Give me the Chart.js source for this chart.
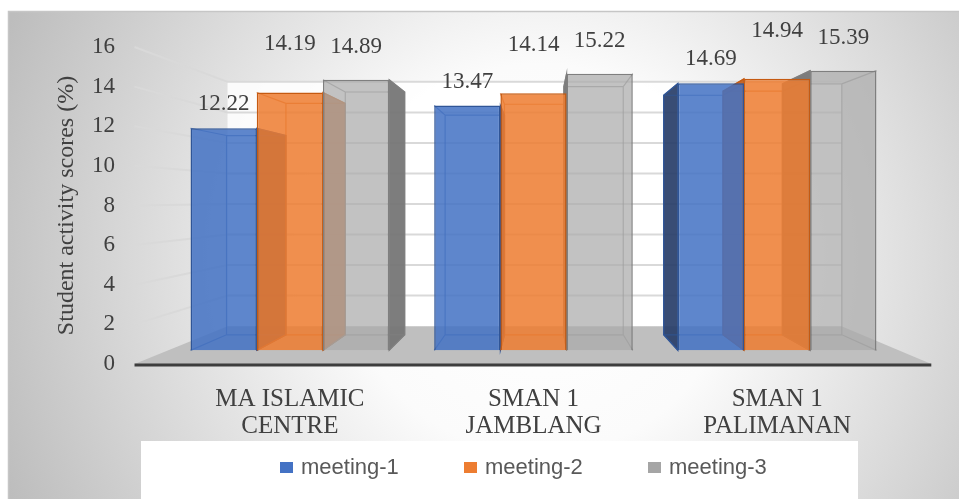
<!DOCTYPE html>
<html>
<head>
<meta charset="utf-8">
<script src="https://cdn.jsdelivr.net/npm/chart.js@4.4.0/dist/chart.umd.min.js"></script>
<style>
  html, body { margin: 0; padding: 0; background: #ffffff; }
  #c { display: block; }
</style>
</head>
<body>
<canvas id="c" width="959" height="499"></canvas>
<script>
// ---------------- data ----------------
const categories = [['MA ISLAMIC', 'CENTRE'], ['SMAN 1', 'JAMBLANG'], ['SMAN 1', 'PALIMANAN']];
const seriesNames = ['meeting-1', 'meeting-2', 'meeting-3'];
const meeting1 = [12.22, 13.47, 14.69];
const meeting2 = [14.19, 14.14, 14.94];
const meeting3 = [14.89, 15.22, 15.39];
const yTicks = [0, 2, 4, 6, 8, 10, 12, 14, 16];
const yTitle = 'Student activity scores (%)';

// ---------------- style ----------------
const SERIF = "'Liberation Serif', 'Times New Roman', serif";
const SANS = "'Liberation Sans', Arial, sans-serif";
const TEXT = '#404040';
const solid = ['#4472C4', '#ED7D31', '#A5A5A5'];
const faceFill = ['rgba(68,114,196,0.86)', 'rgba(237,125,49,0.86)', 'rgba(170,170,170,0.72)'];
const edge = ['#2F5597', '#C55A11', '#7F7F7F'];
const sideFill = ['rgba(40,62,105,0.92)', 'rgba(190,92,30,0.92)', 'rgba(118,118,118,0.95)'];
const labelLift = [24, 48, 33];

// perspective (relative to chart area)
const VXR = 0.509, VYR = 0.4795;
const S_AXIS = 1.09, S_BACK = 0.897, S_WALL = 0.84;

function vp(ca) { return { x: ca.left + ca.width * VXR, y: ca.top + ca.height * VYR }; }
function P(v, x, y, s) { return [v.x + (x - v.x) * s, v.y + (y - v.y) * s]; }
function poly(ctx, pts) {
  ctx.beginPath();
  ctx.moveTo(pts[0][0], pts[0][1]);
  for (let i = 1; i < pts.length; i++) ctx.lineTo(pts[i][0], pts[i][1]);
  ctx.closePath();
}

const scenePlugin = {
  id: 'scene',
  beforeDraw(chart) {
    const { ctx, chartArea: ca, width: W, height: H } = chart;
    const y2 = chart.scales.y2;
    const v = vp(ca);
    ctx.save();
    ctx.fillStyle = '#ffffff';
    ctx.fillRect(0, 0, W, H);
    // outer frame with radial shading
    const g = ctx.createRadialGradient(v.x, v.y + 60, 30, v.x, v.y + 60, 580);
    g.addColorStop(0, '#ffffff');
    g.addColorStop(0.3, '#fbfbfb');
    g.addColorStop(1, '#bdbdbd');
    ctx.fillStyle = g;
    ctx.fillRect(8, 11, W - 8, H - 11);
    ctx.strokeStyle = '#c6c6c6';
    ctx.lineWidth = 1.5;
    ctx.strokeRect(8.5, 11.5, W, H);
    // legend white panel
    ctx.fillStyle = '#ffffff';
    ctx.fillRect(ca.left - 27, ca.bottom + 77, ca.width - 14, H);

    const l = ca.left, r = ca.right;
    const top = y2.getPixelForValue(yTicks[yTicks.length - 1]);
    const f0 = y2.getPixelForValue(0);
    // back wall
    const bw = [P(v, l, top, S_WALL), P(v, r, top, S_WALL), P(v, r, f0, S_WALL), P(v, l, f0, S_WALL)];
    ctx.fillStyle = 'rgba(255,255,255,0.85)';
    poly(ctx, bw); ctx.fill();
    // gridlines on side wall + back wall
    ctx.strokeStyle = '#d9d9d9';
    ctx.lineWidth = 2;
    yTicks.forEach(t => {
      if (t === 0) return;
      const fy = y2.getPixelForValue(t);
      const a = P(v, l, fy, S_AXIS), b = P(v, l, fy, S_WALL), c = P(v, r, fy, S_WALL);
      ctx.beginPath();
      ctx.moveTo(a[0], a[1]); ctx.lineTo(b[0], b[1]); ctx.lineTo(c[0], c[1]);
      ctx.stroke();
    });
    // floor
    const fl = [P(v, l, f0, S_AXIS), P(v, r, f0, S_AXIS), P(v, r, f0, S_WALL), P(v, l, f0, S_WALL)];
    ctx.fillStyle = '#bfbfbf';
    poly(ctx, fl); ctx.fill();
    ctx.strokeStyle = '#3d3d3d';
    ctx.lineWidth = 3;
    ctx.beginPath();
    ctx.moveTo(fl[0][0], fl[0][1] + 1); ctx.lineTo(fl[1][0], fl[1][1] + 1);
    ctx.stroke();
    ctx.restore();
  },
  beforeDatasetsDraw(chart) {
    const { ctx, chartArea: ca } = chart;
    const v = vp(ca);
    ctx.save();
    chart.data.datasets.forEach((ds, di) => {
      const meta = chart.getDatasetMeta(di);
      meta.data.forEach(el => {
        const p = el.getProps(['x', 'y', 'base', 'width'], true);
        const x0 = p.x - p.width / 2, x1 = p.x + p.width / 2;
        const FTL = [x0, p.y], FTR = [x1, p.y], FBL = [x0, p.base], FBR = [x1, p.base];
        const BTL = P(v, x0, p.y, S_BACK), BTR = P(v, x1, p.y, S_BACK);
        const BBL = P(v, x0, p.base, S_BACK), BBR = P(v, x1, p.base, S_BACK);
        ctx.fillStyle = sideFill[di];
        ctx.strokeStyle = edge[di];
        ctx.lineWidth = 1.2;
        if (BTR[0] > x1 + 0.5) { poly(ctx, [FTR, BTR, BBR, FBR]); ctx.fill(); ctx.stroke(); }
        if (BTL[0] < x0 - 0.5) { poly(ctx, [FTL, BTL, BBL, FBL]); ctx.fill(); ctx.stroke(); }
        // hidden edges seen through the translucent faces
        ctx.globalAlpha = 0.7;
        ctx.beginPath();
        ctx.moveTo(BTL[0], BTL[1]); ctx.lineTo(BTR[0], BTR[1]); ctx.lineTo(BBR[0], BBR[1]);
        ctx.lineTo(BBL[0], BBL[1]); ctx.closePath();
        [[FTL, BTL], [FTR, BTR], [FBL, BBL], [FBR, BBR]].forEach(([a, b]) => {
          ctx.moveTo(a[0], a[1]); ctx.lineTo(b[0], b[1]);
        });
        ctx.stroke();
        ctx.globalAlpha = 1;
      });
    });
    ctx.restore();
  },
  afterDatasetsDraw(chart) {
    const { ctx } = chart;
    ctx.save();
    ctx.font = '23px ' + SERIF;
    ctx.fillStyle = TEXT;
    ctx.textAlign = 'center';
    ctx.textBaseline = 'middle';
    chart.data.datasets.forEach((ds, di) => {
      const meta = chart.getDatasetMeta(di);
      meta.data.forEach((el, i) => {
        ctx.fillText(ds.data[i].toFixed(2), el.x, el.y - ds.labelLift);
      });
    });
    ctx.restore();
  },
  afterDraw(chart) {
    // legend row
    const { ctx, chartArea: ca } = chart;
    const cy = ca.bottom + 104;
    const step = 184;
    ctx.save();
    ctx.font = '22px ' + SANS;
    ctx.textAlign = 'left';
    ctx.textBaseline = 'middle';
    chart.data.datasets.forEach((ds, i) => {
      const x = ca.left + 112 + i * step;
      ctx.fillStyle = solid[i];
      ctx.fillRect(x, cy - 6, 13, 11);
      ctx.fillStyle = '#595959';
      ctx.fillText(ds.label, x + 21, cy);
    });
    ctx.restore();
  }
};

const seriesValues = [meeting1, meeting2, meeting3];
const datasets = seriesValues.map((vals, i) => ({
  label: seriesNames[i],
  data: vals,
  yAxisID: 'y2',
  backgroundColor: faceFill[i],
  borderColor: edge[i],
  borderWidth: 1.5,
  labelLift: labelLift[i],
  categoryPercentage: 0.815,
  barPercentage: 1.0
}));

new Chart(document.getElementById('c'), {
  type: 'bar',
  data: { labels: categories, datasets },
  plugins: [scenePlugin],
  options: {
    responsive: false,
    animation: false,
    devicePixelRatio: 1,
    layout: { padding: { left: 8, right: 60, top: 47, bottom: 52 } },
    scales: {
      x: {
        grid: { display: false, drawTicks: false },
        border: { display: false },
        ticks: { font: { family: SERIF, size: 25, lineHeight: 1.08 }, color: TEXT, padding: 22, maxRotation: 0, autoSkip: false },
        afterFit(s) { s.height = 83; }
      },
      y: {
        position: 'left',
        min: yTicks[0],
        max: yTicks[yTicks.length - 1],
        ticks: { stepSize: yTicks[1] - yTicks[0], padding: 53, font: { family: SERIF, size: 23 }, color: TEXT },
        grid: { display: false, drawTicks: false },
        border: { display: false },
        title: { display: true, text: yTitle, font: { family: SERIF, size: 24 }, color: TEXT, padding: { top: 44, bottom: 0 } },
        afterFit(s) { s.width = 160; s.paddingTop = 14; s.paddingBottom = 14; }
      },
      y2: {
        type: 'linear',
        position: 'left',
        display: false,
        min: -0.75,
        max: 16.69
      }
    },
    plugins: {
      legend: { display: false },
      tooltip: { enabled: false }
    }
  }
});
</script>
</body>
</html>
